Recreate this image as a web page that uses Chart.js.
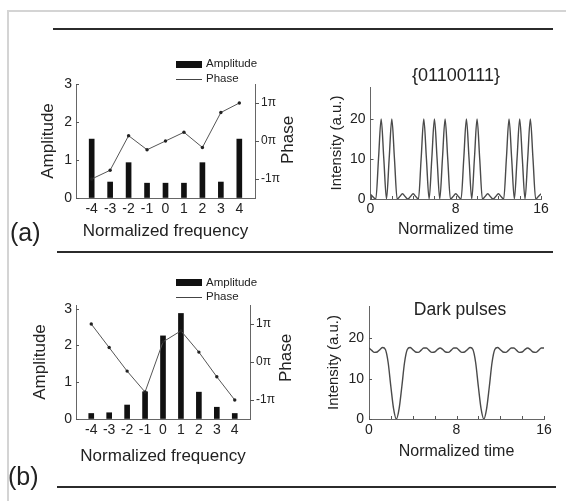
<!DOCTYPE html>
<html>
<head>
<meta charset="utf-8">
<script src="https://cdn.jsdelivr.net/npm/chart.js@4.4.1/dist/chart.umd.min.js"></script>
<style>
  body { margin: 0; background: #fff; font-family: "Liberation Sans", Arial, sans-serif; color: #222; }
  #fig { position: relative; width: 566px; height: 501px; overflow: hidden; background: #fff; }
  #fig canvas { position: absolute; }
  .frame { position: absolute; left: 7px; top: 10px; width: 600px; height: 600px; border-left: 2px solid #d4d4d4; border-top: 2px solid #d4d4d4; }
  .rule { position: absolute; height: 2px; background: #2b2b2b; }
  .txt { position: absolute; white-space: nowrap; line-height: 1; }
  .rot { position: absolute; white-space: nowrap; line-height: 1; transform: translate(-50%, -50%) rotate(-90deg); }
  .ctr { position: absolute; white-space: nowrap; line-height: 1; transform: translate(-50%, -50%); }
  .box { position: absolute; background: #111; }
  .ln { position: absolute; height: 1px; background: #444; }
</style>
</head>
<body>
<div id="fig">
  <div class="frame"></div>
  <div class="rule" style="left:53px;top:28px;width:500px"></div>
  <div class="rule" style="left:57px;top:251px;width:496px"></div>
  <div class="rule" style="left:57px;top:486px;width:499px"></div>

  <canvas id="specA" width="300" height="250" style="left:0;top:0"></canvas>
  <canvas id="pulseA" width="266" height="250" style="left:300px;top:0"></canvas>
  <canvas id="specB" width="300" height="250" style="left:0;top:250px"></canvas>
  <canvas id="pulseB" width="266" height="250" style="left:300px;top:250px"></canvas>

  <div class="txt" style="left:10px;top:220px;font-size:25px">(a)</div>
  <div class="txt" style="left:8px;top:464px;font-size:25px">(b)</div>

  <div class="box" style="left:176px;top:61px;width:26px;height:7px"></div>
  <div class="txt" style="left:206px;top:58px;font-size:11.5px">Amplitude</div>
  <div class="ln" style="left:176px;top:79px;width:26px"></div>
  <div class="txt" style="left:206px;top:73px;font-size:11.5px">Phase</div>

  <div class="box" style="left:176px;top:279px;width:26px;height:7px"></div>
  <div class="txt" style="left:206px;top:277px;font-size:11.5px">Amplitude</div>
  <div class="ln" style="left:176px;top:297px;width:26px"></div>
  <div class="txt" style="left:206px;top:291px;font-size:11.5px">Phase</div>

  <div class="rot" style="left:286.5px;top:140px;font-size:17px">Phase</div>
  <div class="rot" style="left:284.5px;top:358px;font-size:17px">Phase</div>

  <div class="ctr" style="left:456px;top:75px;font-size:18px">{01100111}</div>
  <div class="ctr" style="left:460px;top:310px;font-size:17.5px">Dark pulses</div>
</div>

<script>
// spectral lines
const freqs = [-4, -3, -2, -1, 0, 1, 2, 3, 4];
const ampA = [1.55, 0.42, 0.93, 0.39, 0.39, 0.39, 0.93, 0.42, 1.55];
const phaseA = [-1.0, -0.77, 0.14, -0.23, 0, 0.23, -0.17, 0.75, 1.0];   // in units of pi
const ampB = [0.15, 0.17, 0.38, 0.74, 2.26, 2.87, 0.73, 0.32, 0.15];
const phaseB = [1.0, 0.38, -0.24, -0.79, 0.53, 0.82, 0.26, -0.39, -1.0];

// intensity traces, sampled every quarter time unit
const times = [0, 0.25, 0.5, 0.75, 1, 1.25, 1.5, 1.75, 2, 2.25, 2.5, 2.75, 3, 3.25, 3.5, 3.75,
  4, 4.25, 4.5, 4.75, 5, 5.25, 5.5, 5.75, 6, 6.25, 6.5, 6.75, 7, 7.25, 7.5, 7.75,
  8, 8.25, 8.5, 8.75, 9, 9.25, 9.5, 9.75, 10, 10.25, 10.5, 10.75, 11, 11.25, 11.5, 11.75,
  12, 12.25, 12.5, 12.75, 13, 13.25, 13.5, 13.75, 14, 14.25, 14.5, 14.75, 15, 15.25, 15.5, 15.75, 16];
const brightPulses = [1.2, 0.5, 0, 10, 20, 10, 0, 10, 20, 10, 0, 0.6, 1.3, 0.6, 0, 0.6,
  1.3, 0.6, 0, 10, 20, 10, 0, 10, 20, 10, 0, 10, 20, 10, 0, 0.6,
  1.3, 0.6, 0, 10, 20, 10, 0, 10, 20, 10, 0, 0.6, 1.3, 0.6, 0, 0.6,
  1.3, 0.6, 0, 10, 20, 10, 0, 10, 20, 10, 0, 10, 20, 10, 0, 0.6, 1.3];
const darkPulses = [17.6, 17.0, 16.5, 16.6, 17.2, 17.7, 17.2, 14, 8, 2.5, 0, 2.5, 8, 14, 17.2, 17.7,
  17.2, 16.6, 16.5, 17.0, 17.6, 17.6, 17.0, 16.5, 16.6, 17.2, 17.6, 17.2, 16.6, 16.5, 17.0, 17.6,
  17.6, 17.0, 16.5, 16.6, 17.2, 17.7, 17.2, 14, 8, 2.5, 0, 2.5, 8, 14, 17.2, 17.7,
  17.2, 16.6, 16.5, 17.0, 17.6, 17.6, 17.0, 16.5, 16.6, 17.2, 17.6, 17.2, 16.6, 16.5, 17.0, 17.6, 17.6];

// tick labels
const ampTicks = [0, 1, 2, 3];
const phaseTicks = [-1, 0, 1];
const phaseLabels = ['-1\u03c0', '0\u03c0', '1\u03c0'];
const timeMarks = [0, 2, 4, 6, 8, 10, 12, 14, 16];
const timeLabels = [0, 8, 16];
const intensityTicks = [0, 10, 20];

Chart.defaults.font.family = '"Liberation Sans", Arial, sans-serif';
Chart.defaults.color = '#222';

// small tick marks drawn on the axis line (inward on the left / bottom axes)
const tickMarks = {
    id: 'tickMarks',
    afterDraw(chart, args, opts) {
        const ctx = chart.ctx;
        ctx.save();
        ctx.strokeStyle = '#555';
        ctx.lineWidth = 1;
        ctx.beginPath();
        Object.entries(opts.scales || {}).forEach(([id, len]) => {
            const s = chart.scales[id];
            s.ticks.forEach(t => {
                const p = Math.round(s.getPixelForValue(t.value)) + 0.5;
                if (s.isHorizontal()) {
                    ctx.moveTo(p, s.top); ctx.lineTo(p, s.top - len);
                } else if (s.position === 'left') {
                    ctx.moveTo(s.right, p); ctx.lineTo(s.right + len, p);
                } else {
                    ctx.moveTo(s.left, p); ctx.lineTo(s.left + len, p);
                }
            });
        });
        ctx.stroke();
        ctx.restore();
    }
};

const axisLine = { display: true, color: '#666', width: 1 };
const noGrid = { display: true, drawOnChartArea: false, drawTicks: false };

function spectrum(id, amp, phase, g) {
    return new Chart(document.getElementById(id), {
        type: 'bar',
        data: {
            datasets: [
                {
                    type: 'line', label: 'Phase', yAxisID: 'p', order: 0,
                    data: freqs.map((f, i) => ({ x: f, y: phase[i] })),
                    borderColor: '#555', borderWidth: 1, tension: 0,
                    pointRadius: 1.7, pointBackgroundColor: '#222', pointBorderWidth: 0
                },
                {
                    type: 'bar', label: 'Amplitude', yAxisID: 'a', order: 1,
                    data: freqs.map((f, i) => ({ x: f, y: amp[i] })),
                    backgroundColor: '#111', barThickness: 5
                }
            ]
        },
        options: {
            responsive: false, animation: false, devicePixelRatio: 1,
            layout: { padding: g.pad },
            plugins: { legend: { display: false }, tooltip: { enabled: false }, tickMarks: { scales: { a: 3, p: 4 } } },
            scales: {
                x: {
                    type: 'linear', min: -4.85, max: 4.85, offset: false,
                    afterBuildTicks: s => { s.ticks = freqs.map(v => ({ value: v })); },
                    afterFit: s => { s.height = g.hx; },
                    grid: { ...noGrid, offset: false }, border: axisLine,
                    ticks: { font: { size: 14 }, color: '#222', padding: g.xtp, maxRotation: 0, autoSkip: false },
                    title: { display: true, text: 'Normalized frequency', font: { size: 17 }, color: '#222', padding: { top: 0, bottom: g.xtb } }
                },
                a: {
                    position: 'left', min: 0, max: g.amax,
                    afterBuildTicks: s => { s.ticks = ampTicks.map(v => ({ value: v })); },
                    afterFit: s => { s.width = g.wl; },
                    grid: noGrid, border: axisLine,
                    ticks: { font: { size: 14 }, color: '#222', padding: 4 },
                    title: { display: true, text: 'Amplitude', font: { size: 17 }, color: '#222', padding: { top: g.ytp, bottom: 0 } }
                },
                p: {
                    position: 'right', min: -1.5, max: 1.5,
                    afterBuildTicks: s => { s.ticks = phaseTicks.map(v => ({ value: v })); },
                    afterFit: s => { s.width = 30; },
                    grid: noGrid, border: axisLine,
                    ticks: { font: { size: 12 }, color: '#222', padding: 6, callback: v => phaseLabels[phaseTicks.indexOf(v)] }
                }
            }
        },
        plugins: [tickMarks]
    });
}

function intensity(id, values, g) {
    return new Chart(document.getElementById(id), {
        type: 'line',
        data: {
            datasets: [{
                data: times.map((t, i) => ({ x: t, y: values[i] })),
                borderColor: '#4a4a4a', borderWidth: 1.4, pointRadius: 0,
                cubicInterpolationMode: 'monotone'
            }]
        },
        options: {
            responsive: false, animation: false, devicePixelRatio: 1,
            layout: { padding: g.pad },
            plugins: { legend: { display: false }, tooltip: { enabled: false }, tickMarks: { scales: { x: 3, y: 3 } } },
            scales: {
                x: {
                    type: 'linear', min: 0, max: 16,
                    afterBuildTicks: s => { s.ticks = timeMarks.map(v => ({ value: v })); },
                    afterFit: s => { s.height = g.hx; },
                    grid: noGrid, border: axisLine,
                    ticks: { font: { size: 14 }, color: '#222', padding: g.xtp, maxRotation: 0, autoSkip: false,
                             callback: v => timeLabels.includes(v) ? String(v) : '' },
                    title: { display: true, text: 'Normalized time', font: { size: 16 }, color: '#222', padding: { top: 0, bottom: g.xtb } }
                },
                y: {
                    min: 0, max: 28,
                    afterBuildTicks: s => { s.ticks = intensityTicks.map(v => ({ value: v })); },
                    afterFit: s => { s.width = g.wl; },
                    grid: noGrid, border: axisLine,
                    ticks: { font: { size: 14 }, color: '#222', padding: 5 },
                    title: { display: true, text: 'Intensity (a.u.)', font: { size: 15 }, color: '#222', padding: { top: g.ytp, bottom: 0 } }
                }
            }
        },
        plugins: [tickMarks]
    });
}

spectrum('specA', ampA, phaseA, { pad: { left: 31, top: 84, right: 15, bottom: 7 }, wl: 45, hx: 45, xtp: 2.6, xtb: 1.8, ytp: 6.8, amax: 3 });
spectrum('specB', ampB, phaseB, { pad: { left: 23, top: 55, right: 20, bottom: 31 }, wl: 53, hx: 50, xtp: 2.6, xtb: 2.1, ytp: 6.8, amax: 3.1 });
intensity('pulseA', brightPulses, { pad: { left: 20, top: 87, right: 25, bottom: 6 }, wl: 50.5, hx: 45, xtp: 2, xtb: 4.4, ytp: 8 });
intensity('pulseB', darkPulses, { pad: { left: 20, top: 56, right: 22, bottom: 36 }, wl: 49, hx: 45, xtp: 2.3, xtb: 3, ytp: 4.5 });
</script>
</body>
</html>
